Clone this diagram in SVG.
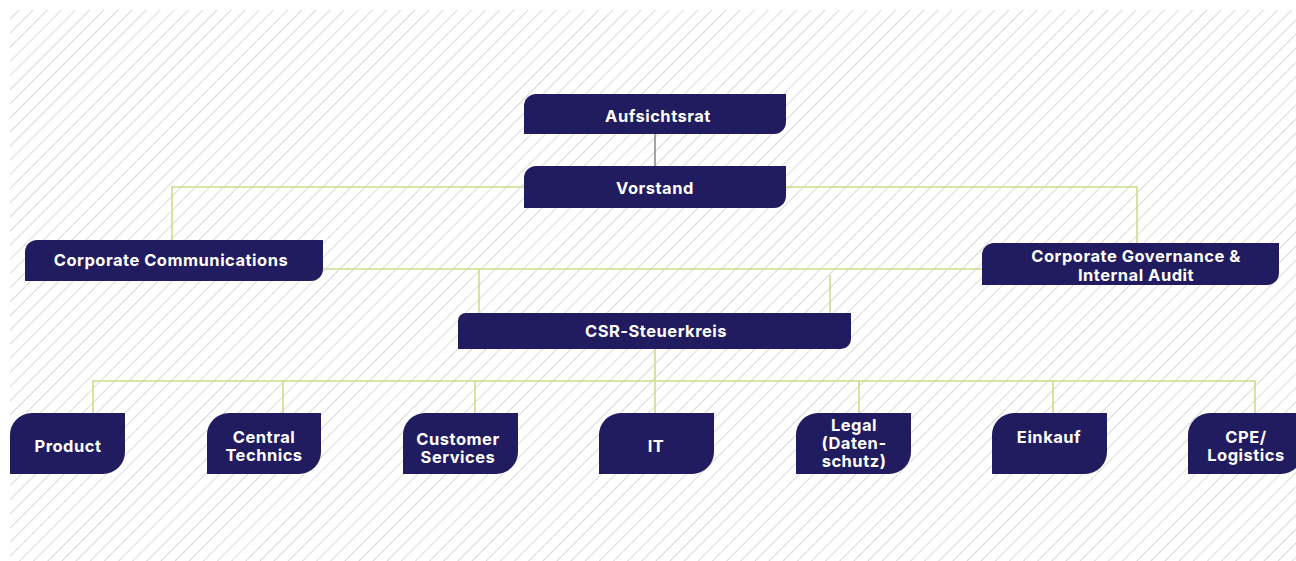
<svg xmlns="http://www.w3.org/2000/svg" width="1296" height="561" viewBox="0 0 1296 561">
<defs>
<pattern id="hatch" patternUnits="userSpaceOnUse" width="10" height="10" patternTransform="rotate(45)">
<line x1="0" y1="0" x2="0" y2="10" stroke="#cdcdcd" stroke-width="1.5"/>
</pattern>
<style>
.node{fill:#211c5f;}
.lbl{font-family:Inter,"Liberation Sans",sans-serif;font-weight:700;font-size:16.5px;letter-spacing:0.5px;fill:#ffffff;text-anchor:middle;}
.g{fill:none;stroke:#c8df8b;stroke-width:1.6;}
.k{fill:none;stroke:#8e8e8e;stroke-width:1.6;}
</style>
</defs>
<rect x="0" y="0" width="1296" height="561" fill="#ffffff"/>
<rect x="10" y="10" width="1286" height="551" fill="url(#hatch)"/>
<g id="connectors">
<path class="k" d="M655,134 V166"/>
<path class="g" d="M172,240 V187 H1137 V243"/>
<path class="g" d="M323,269 H982"/>
<path class="g" d="M479,269 V313"/>
<path class="g" d="M830,275 V313"/>
<path class="g" d="M655,349 V381"/>
<path class="g" d="M93,413 V381 H1255 V413"/>
<path class="g" d="M283,381 V413 M475,381 V413 M655,381 V413 M859,381 V413 M1053,381 V413"/>
</g>
<g id="aufsichtsrat">
<path class="node" d="M536,94 H786 V122 A12,12 0 0 1 774,134 H524 V106 A12,12 0 0 1 536,94 Z"/>
<text class="lbl" x="658" y="122">Aufsichtsrat</text>
</g>
<g id="vorstand">
<path class="node" d="M536,166 H786 V196 A12,12 0 0 1 774,208 H524 V178 A12,12 0 0 1 536,166 Z"/>
<text class="lbl" x="655" y="194">Vorstand</text>
</g>
<g id="corp-comm">
<path class="node" d="M37,240 H323 V269 A12,12 0 0 1 311,281 H25 V252 A12,12 0 0 1 37,240 Z"/>
<text class="lbl" x="171" y="266">Corporate Communications</text>
</g>
<g id="corp-gov">
<path class="node" d="M994,243 H1279 V273 A12,12 0 0 1 1267,285 H982 V255 A12,12 0 0 1 994,243 Z"/>
<text class="lbl" x="1136" y="262">Corporate Governance &amp;</text>
<text class="lbl" x="1136" y="281">Internal Audit</text>
</g>
<g id="csr">
<path class="node" d="M466,313 H851 V339 A10,10 0 0 1 841,349 H458 V321 A8,8 0 0 1 466,313 Z"/>
<text class="lbl" x="656" y="337">CSR-Steuerkreis</text>
</g>
<g id="product">
<path class="node" d="M32,413 H125 V452 A22,22 0 0 1 103,474 H10 V435 A22,22 0 0 1 32,413 Z"/>
<text class="lbl" x="68" y="452">Product</text>
</g>
<g id="central-technics">
<path class="node" d="M229,413 H321 V452 A22,22 0 0 1 299,474 H207 V435 A22,22 0 0 1 229,413 Z"/>
<text class="lbl" x="264" y="443">Central</text>
<text class="lbl" x="264" y="461">Technics</text>
</g>
<g id="customer-services">
<path class="node" d="M425,413 H518 V452 A22,22 0 0 1 496,474 H403 V435 A22,22 0 0 1 425,413 Z"/>
<text class="lbl" x="458" y="445">Customer</text>
<text class="lbl" x="458" y="463">Services</text>
</g>
<g id="it">
<path class="node" d="M621,413 H714 V452 A22,22 0 0 1 692,474 H599 V435 A22,22 0 0 1 621,413 Z"/>
<text class="lbl" x="656" y="452">IT</text>
</g>
<g id="legal">
<path class="node" d="M818,413 H911 V452 A22,22 0 0 1 889,474 H796 V435 A22,22 0 0 1 818,413 Z"/>
<text class="lbl" x="854" y="431">Legal</text>
<text class="lbl" x="854" y="449">(Daten-</text>
<text class="lbl" x="854" y="467">schutz)</text>
</g>
<g id="einkauf">
<path class="node" d="M1014,413 H1107 V452 A22,22 0 0 1 1085,474 H992 V435 A22,22 0 0 1 1014,413 Z"/>
<text class="lbl" x="1049" y="443">Einkauf</text>
</g>
<g id="cpe-logistics">
<path class="node" d="M1210,413 H1303 V452 A22,22 0 0 1 1281,474 H1188 V435 A22,22 0 0 1 1210,413 Z"/>
<text class="lbl" x="1246" y="443">CPE/</text>
<text class="lbl" x="1246" y="461">Logistics</text>
</g>
</svg>
